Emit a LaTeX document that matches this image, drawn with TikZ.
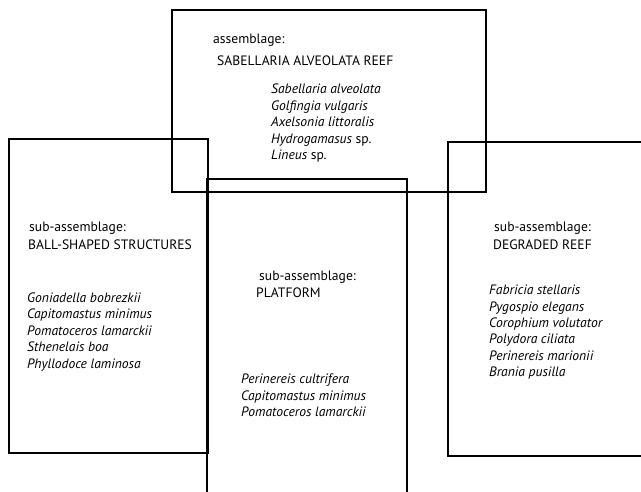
\documentclass[tikz,border=0pt]{standalone}
\usepackage{fontspec}
\setmainfont{PT Sans}

\begin{document}
\begin{tikzpicture}[x=1pt,y=-1pt]

\tikzset{box/.style={rectangle, draw, line width=2pt, inner sep=0pt},
         lbl/.style={anchor=base west, inner sep=0pt, align=left,
                     font=\fontsize{13.6}{16.5}\selectfont},
         spp/.style={lbl, font=\fontsize{13.6}{16.5}\selectfont\itshape}}

\path[use as bounding box, clip] (0,0) rectangle (641,492);

\begin{scope}

    % the boxes
    \node (reef) at (329,101) [box, minimum width=314pt, minimum height=182pt] {};
    \node (ball) at (108.5,296) [box, minimum width=199pt, minimum height=314pt] {};
    \node (plat) at (307,350) [box, minimum width=200pt, minimum height=342pt] {};
    \node (degr) at (558,299) [box, minimum width=220pt, minimum height=314pt] {};

    % assemblage (lists are placed by their last line)
    \node (reefhead) at (213,44) [lbl] {assemblage:};
    \node (reefname) at (217,66) [lbl] {SABELLARIA ALVEOLATA REEF};
    \node (reefsp) at (271,160) [spp] {Sabellaria alveolata\\
        Golfingia vulgaris\\ Axelsonia littoralis\\
        Hydrogamasus \upshape sp.\\ Lineus \upshape sp.};

    % sub-assemblages
    \node (ballhead) at (29,232) [lbl] {sub-assemblage:};
    \node (ballname) at (28,250) [lbl] {BALL-SHAPED STRUCTURES};
    \node (ballsp) at (27,368) [spp]
        {Goniadella bobrezkii\\ Capitomastus minimus\\ Pomatoceros lamarckii\\
         Sthenelais boa\\ Phyllodoce laminosa};

    \node (plathead) at (259,281) [lbl] {sub-assemblage:};
    \node (platname) at (256,298) [lbl] {PLATFORM};
    \node (platsp) at (241,417) [spp]
        {Perinereis cultrifera\\ Capitomastus minimus\\ Pomatoceros lamarckii};

    \node (degrhead) at (494,232) [lbl] {sub-assemblage:};
    \node (degrname) at (493,250) [lbl] {DEGRADED REEF};
    \node (degrsp) at (489,377) [spp]
        {Fabricia stellaris\\ Pygospio elegans\\ Corophium volutator\\
         Polydora ciliata\\ Perinereis marionii\\ Brania pusilla};

\end{scope}

\end{tikzpicture}
\end{document}
